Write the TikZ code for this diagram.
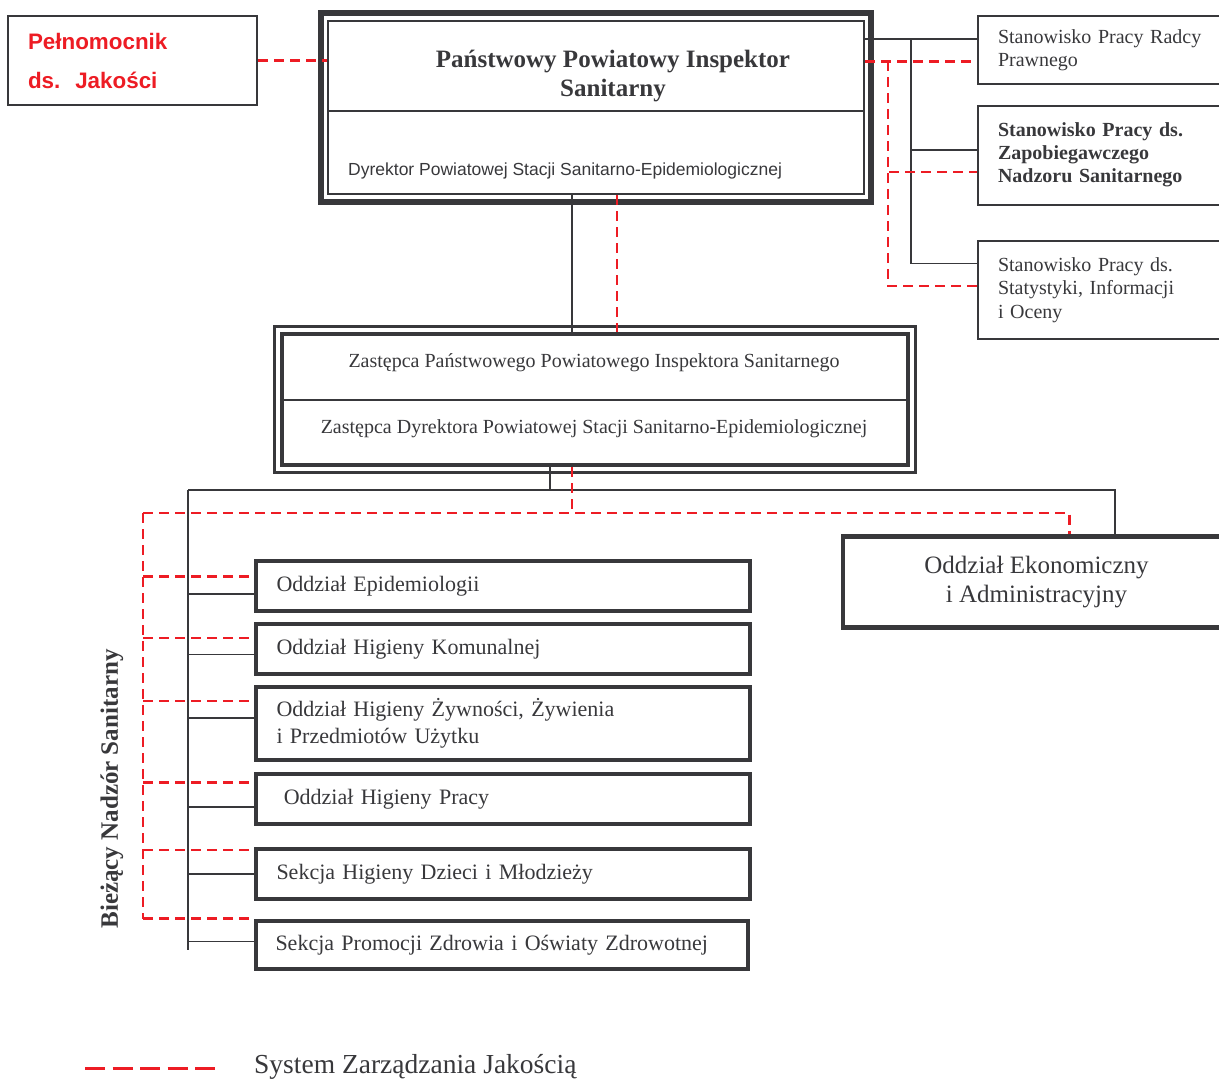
\documentclass[tikz,border=0pt]{standalone}
\usepackage{fontspec}
\setmainfont{Liberation Serif}
\setsansfont{Liberation Sans}
\usetikzlibrary{calc}

\definecolor{ink}{RGB}{56,56,59}
\definecolor{szj}{RGB}{237,28,36}

\tikzset{
  link/.style={draw=ink, line width=1.5pt},
  szjline/.style={draw=szj, line width=2.6pt, dash pattern=on 10pt off 6pt},
  staffbox/.style={draw=ink, line width=2pt, minimum width=254pt, text width=214pt,
    align=left, text=ink, font=\fontsize{20}{23.5}\selectfont},
  unitbox/.style={draw=ink, line width=4.5pt, minimum width=494pt, text width=453pt,
    align=left, text=ink, font=\fontsize{22}{27}\selectfont}
}

\begin{document}
\begin{tikzpicture}[x=1pt,y=1pt,yscale=-1]
\clip (0,0) rectangle (1219,1080);

% Pelnomocnik
\node[draw=ink, line width=2pt, minimum width=249pt, minimum height=89pt, text width=209pt,
  align=left, text=szj, font=\sffamily\bfseries\fontsize{22.4}{39}\selectfont] (pel) at (132.5,60.5) {Pełnomocnik\\ds.\ \ Jakości};

% Inspektor
\node[draw=ink, line width=2pt, minimum width=536pt, minimum height=173pt] (pis) at (596,107.5) {};
\draw[ink, line width=6pt] ($(pis.north west)+(-6,-7)$) rectangle ($(pis.south east)+(6,7)$);
\draw[ink, line width=2pt] ($(pis.north west)!0.52!(pis.south west)$) -- ($(pis.north east)!0.52!(pis.south east)$);
\node[align=center, text=ink, font=\bfseries\fontsize{25}{29}\selectfont] (pis-t) at (613,76) {Państwowy Powiatowy Inspektor\\Sanitarny};
\node[anchor=west, inner sep=0pt, text=ink, font=\sffamily\fontsize{17.5}{20}\selectfont] (pis-d) at (348,171) {Dyrektor Powiatowej Stacji Sanitarno-Epidemiologicznej};

% stanowiska
\node[staffbox, minimum height=68pt] (rad) at (1105,50) {Stanowisko Pracy Radcy\\Prawnego};
\node[staffbox, minimum height=99pt, font=\bfseries\fontsize{20}{23}\selectfont] (zap) at (1105,155) {Stanowisko Pracy ds.\\Zapobiegawczego\\Nadzoru Sanitarnego};
\node[staffbox, minimum height=98pt] (sta) at (1105,290) {Stanowisko Pracy ds.\\Statystyki, Informacji\\i Oceny};

% Zastepca
\node[draw=ink, line width=4.5pt, minimum width=626pt, minimum height=131pt] (zas) at (595,399.5) {};
\draw[ink, line width=3pt] ($(zas.north west)+(-5.5,-5.5)$) rectangle ($(zas.south east)+(5.5,5.5)$);
\draw[ink, line width=2pt] (zas.west) -- (zas.east);
\node[text=ink, font=\fontsize{20}{24}\selectfont] (zas-a) at (594,363) {Zastępca Państwowego Powiatowego Inspektora Sanitarnego};
\node[text=ink, font=\fontsize{20}{24}\selectfont] (zas-b) at (594,429) {Zastępca Dyrektora Powiatowej Stacji Sanitarno-Epidemiologicznej};

% oddzialy
\node[draw=ink, line width=4.5pt, minimum width=387pt, minimum height=91pt, align=center,
  text=ink, font=\fontsize{25}{29}\selectfont] (eko) at (1036.5,582) {Oddział Ekonomiczny\\i Administracyjny};
\node[unitbox, minimum height=50pt] (epi) at (503,586) {Oddział Epidemiologii};
\node[unitbox, minimum height=50pt] (kom) at (503,649) {Oddział Higieny Komunalnej};
\node[unitbox, minimum height=73pt] (zyw) at (503,723.5) {Oddział Higieny Żywności, Żywienia\\i Przedmiotów Użytku};
\node[unitbox, minimum height=50pt] (pra) at (503,799) {\ Oddział Higieny Pracy};
\node[unitbox, minimum height=50pt] (dzi) at (503,874) {Sekcja Higieny Dzieci i Młodzieży};
\node[unitbox, minimum height=48pt, minimum width=492pt] (pro) at (502,945) {Sekcja Promocji Zdrowia i Oświaty Zdrowotnej};

\node[rotate=90, text=ink, font=\bfseries\fontsize{25}{29}\selectfont] (bns) at (112,789) {Bieżący Nadzór Sanitarny};

% szyny
\coordinate (rbus) at (911,0);
\coordinate (qrbus) at (888,0);
\coordinate (dn-s) at (572,0);
\coordinate (dn-q) at (617,0);
\coordinate (hub-s) at (550,490);
\coordinate (hub-q) at (572,513);
\coordinate (lbus) at (188,0);
\coordinate (qlbus) at (143,0);

\coordinate (rad-s) at ($(rad.north west)!0.34!(rad.south west)$);
\coordinate (rad-q) at ($(rad.north west)!0.66!(rad.south west)$);
\coordinate (zap-s) at ($(zap.north west)!0.45!(zap.south west)$);
\coordinate (zap-q) at ($(zap.north west)!0.67!(zap.south west)$);
\coordinate (sta-s) at ($(sta.north west)!0.235!(sta.south west)$);
\coordinate (sta-q) at ($(sta.north west)!0.46!(sta.south west)$);
\coordinate (eko-s) at ($(eko.north west)!0.70!(eko.north east)$);
\coordinate (eko-q) at ($(eko.north west)!0.584!(eko.north east)$);

% linie sluzbowe
\draw[link] (pis.east |- rad-s) -- (rad-s);
\draw[link] (rbus |- rad-s) |- (zap-s);
\draw[link] (rbus |- rad-s) |- (sta-s);
\draw[link] (dn-s |- pis.south) -- (dn-s |- zas.north);
\draw[link] (hub-s |- zas.south) -- (hub-s);
\draw[link] (lbus |- hub-s) -- (eko-s |- hub-s) -- (eko-s);

% System Zarzadzania Jakoscia
\draw[szjline] (pel.east) -- (pis.west |- pel.east);
\draw[szjline] (pis.east |- rad-q) -- (rad-q);
\draw[szjline] (qrbus |- rad-q) |- (zap-q);
\draw[szjline] (qrbus |- rad-q) |- (sta-q);
\draw[szjline] (dn-q |- pis.south) -- (dn-q |- zas.north);
\draw[szjline] (hub-q |- zas.south) -- (hub-q);
\draw[szjline] (qlbus |- hub-q) -- (eko-q |- hub-q) -- (eko-q);

\foreach \u/\s/\q in {epi/0.65/0.33, kom/0.6/0.3, zyw/0.43/0.21, pra/0.65/0.2, dzi/0.5/0.06, pro/0.43/0.0}{
  \coordinate (\u-s) at ($(\u.north west)!\s!(\u.south west)$);
  \coordinate (\u-q) at ($(\u.north west)!\q!(\u.south west)$);
  \draw[link] (lbus |- \u-s) -- (\u-s);
  \draw[szjline] (qlbus |- \u-q) -- (\u-q);
}
\coordinate (pro-e) at ($(pro.north west)!0.6!(pro.south west)$);
\draw[link] (lbus |- hub-s) -- (lbus |- pro-e);
\draw[szjline] (qlbus |- hub-q) -- (qlbus |- pro-q);

% legenda
\node[anchor=west, inner sep=0pt, text=ink, font=\fontsize{27.5}{32}\selectfont] (leg) at (254,1067) {System Zarządzania Jakością};
\coordinate (leg-a) at (85,1068);
\draw[szjline, line width=3pt, dash pattern=on 20pt off 7.5pt] (leg-a) -- ++(130,0);

\end{tikzpicture}
\end{document}
